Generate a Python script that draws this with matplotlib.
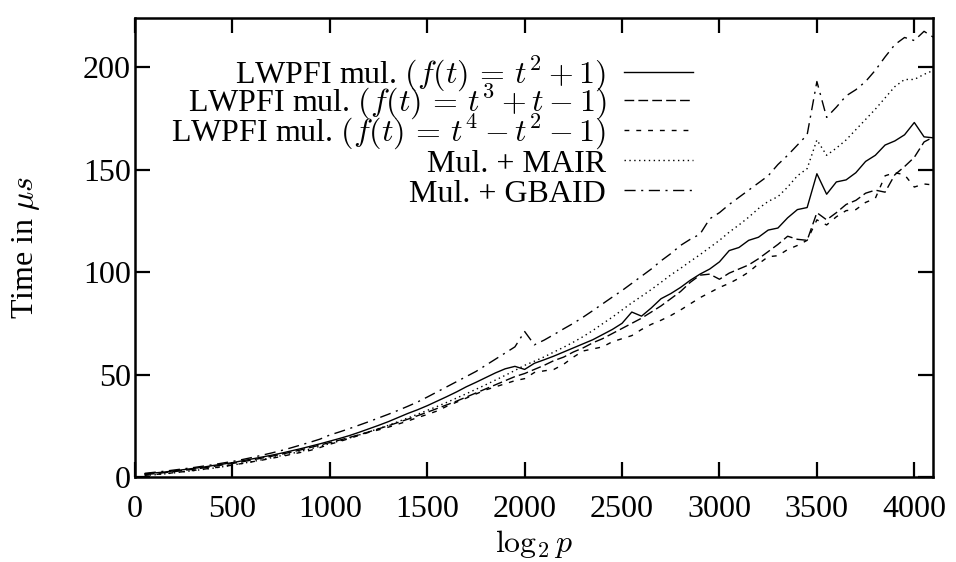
import matplotlib
matplotlib.use("Agg")
import matplotlib.pyplot as plt

plt.rcParams['font.family'] = ['Liberation Serif', 'DejaVu Serif']
plt.rcParams['mathtext.fontset'] = 'cm'

# log2 p
bits = list(range(50, 4101, 50))

lwpfi_t2 = [1.5, 2.0, 2.4, 3.0, 3.6, 4.2, 4.8, 5.6, 6.3, 7.0,
            7.9, 8.8, 9.7, 10.6, 11.6, 12.7, 13.8, 15.0, 16.2, 17.5,
            18.8, 20.2, 21.8, 23.5, 25.2, 27.0, 29.0, 31.0, 32.8, 34.8,
            37.0, 39.2, 41.5, 44.0, 46.2, 48.5, 50.8, 52.8, 54.0, 52.5,
            55.5, 57.2, 59.0, 61.0, 63.0, 65.0, 67.0, 69.5, 72.0, 75.0,
            80.5, 78.5, 82.5, 87.0, 89.5, 92.5, 96.0, 99.0, 101.5, 105.0,
            110.5, 112.0, 115.5, 117.0, 120.5, 121.5, 126.5, 130.5, 131.5, 148.0,
            138.0, 144.0, 145.0, 148.5, 154.0, 157.0, 162.0, 164.0, 167.0, 173.0,
            166.0, 165.5]

lwpfi_t3 = [1.2, 1.6, 2.1, 2.6, 3.2, 3.8, 4.4, 5.1, 5.9, 6.6,
            7.4, 8.3, 9.2, 10.1, 11.1, 12.1, 13.2, 14.4, 15.6, 16.8,
            18.0, 19.3, 20.6, 22.0, 23.5, 25.0, 26.6, 28.2, 29.9, 31.6,
            33.4, 35.2, 37.0, 39.0, 41.0, 43.0, 45.0, 47.0, 49.0, 50.5,
            52.5, 54.5, 56.8, 58.5, 61.0, 63.0, 65.5, 67.5, 70.0, 72.5,
            75.0, 77.5, 80.5, 83.5, 87.0, 90.5, 95.0, 98.5, 99.0, 96.5,
            99.5, 101.5, 103.5, 106.5, 110.0, 113.5, 117.5, 116.0, 115.5, 129.0,
            125.5, 129.0, 133.0, 135.0, 138.5, 140.0, 139.0, 147.5, 151.5, 156.0,
            163.5, 166.0]

lwpfi_t4 = [0.8, 1.2, 1.6, 2.1, 2.6, 3.2, 3.8, 4.4, 5.1, 5.8,
            6.6, 7.4, 8.2, 9.1, 10.0, 11.0, 12.0, 13.0, 14.4, 16.0,
            17.3, 18.8, 20.3, 21.8, 23.0, 24.3, 25.8, 27.3, 29.0, 30.5,
            32.2, 34.5, 36.5, 38.5, 40.5, 42.5, 44.0, 45.5, 47.0, 48.0,
            51.0, 51.8, 52.5, 55.0, 58.5, 61.5, 62.5, 63.5, 66.0, 67.5,
            69.0, 72.0, 74.5, 76.5, 78.8, 81.5, 84.5, 87.5, 90.0, 92.5,
            94.5, 97.0, 100.0, 104.0, 107.5, 108.0, 111.0, 113.0, 115.5, 125.5,
            123.0, 127.0, 130.0, 130.5, 134.0, 136.0, 147.0, 148.5, 147.5, 141.5,
            143.0, 142.5]

mair = [0.8, 1.1, 1.5, 2.0, 2.6, 3.1, 3.7, 4.3, 5.0, 5.8,
        6.6, 7.5, 8.4, 9.4, 10.4, 11.4, 12.5, 13.7, 15.0, 16.3,
        17.6, 19.0, 20.5, 22.0, 23.6, 25.2, 27.0, 28.8, 30.6, 32.5,
        34.4, 36.4, 38.5, 40.6, 42.8, 45.0, 47.3, 49.6, 52.0, 54.5,
        56.5, 58.6, 61.0, 63.3, 65.8, 68.5, 71.5, 74.8, 78.0, 81.5,
        85.0, 88.2, 91.5, 95.0, 98.6, 101.8, 105.2, 108.5, 112.0, 115.5,
        119.5, 123.0, 126.8, 131.0, 134.5, 136.8, 141.5, 147.0, 150.5, 164.5,
        157.0, 160.5, 164.5, 169.5, 174.5, 179.5, 185.0, 190.5, 194.0, 194.0,
        196.5, 198.5]

gbaid = [1.8, 2.3, 2.8, 3.4, 4.0, 4.6, 5.3, 6.0, 6.8, 7.6,
         8.5, 9.5, 10.6, 11.7, 12.9, 14.2, 15.6, 17.0, 18.5, 20.5,
         22.0, 23.6, 25.3, 27.0, 28.8, 30.6, 32.5, 34.5, 36.6, 39.0,
         41.5, 44.0, 46.5, 49.0, 51.5, 54.5, 57.5, 60.5, 63.5, 71.0,
         64.5, 66.8, 69.5, 72.3, 75.0, 78.0, 81.2, 84.5, 87.8, 91.0,
         94.5, 98.0, 101.5, 105.5, 109.0, 113.0, 116.0, 118.5, 126.0, 129.0,
         133.0, 136.5, 140.0, 143.5, 147.0, 152.5, 157.0, 162.0, 167.0, 193.0,
         175.5, 180.5, 186.0, 189.0, 193.0, 198.5, 205.0, 211.0, 214.5, 213.0,
         217.5, 214.5]

labels = [r'LWPFI mul. $(f(t)\, =\, t^2 + 1)$',
          r'LWPFI mul. $(f(t)\, =\, t^3 + t - 1)$',
          r'LWPFI mul. $(f(t)\, =\, t^4 - t^2 - 1)$',
          'Mul. + MAIR',
          'Mul. + GBAID']
series = [lwpfi_t2, lwpfi_t3, lwpfi_t4, mair, gbaid]
styles = ['-', (0, (7, 3)), (0, (3.5, 5)), (0, (1, 2.5)), (0, (8, 4, 1.5, 4))]

fig = plt.figure(figsize=(9.56, 5.62), dpi=100)
ax = fig.add_axes([135/956, 1-477/562, 798/956, 459/562])

for ys, ls in zip(series, styles):
    ax.plot(bits, ys, color='black', lw=1.0, linestyle=ls)

ax.set_xlim(0, 4096)
ax.set_ylim(0, 224)
ax.set_xticks(range(0, 4001, 500))
ax.set_yticks(range(0, 201, 50))
ax.tick_params(direction='in', length=11, width=1.6, top=True, right=True,
               labelsize=23)
ax.tick_params(axis='x', pad=13)
ax.tick_params(axis='y', pad=3)
for s in ax.spines.values():
    s.set_linewidth(1.8)

# pixel -> axes fraction helpers
def fx(px):
    return (px - 135) / 798

def fy(py):
    return (477 - py) / 459

ax.set_xlabel(r'$\log_2 p$', fontsize=23)
ax.set_ylabel(r'Time in $\mu s$', fontsize=23)
ax.xaxis.set_label_coords(0.5, fy(528))
ax.yaxis.set_label_coords(fx(42), 0.5)

# key drawn by hand: right-aligned text, sample to the right
rows = [71.5, 99.5, 130, 160, 190]
for lab, ls, py in zip(labels, styles, rows):
    ax.text(fx(606), fy(py + 11.5), lab, transform=ax.transAxes,
            ha='right', va='baseline', fontsize=23)
    ax.plot([fx(624), fx(693)], [fy(py), fy(py)], transform=ax.transAxes,
            color='black', lw=1.0, linestyle=ls)

fig.savefig('out.png', dpi=100)
